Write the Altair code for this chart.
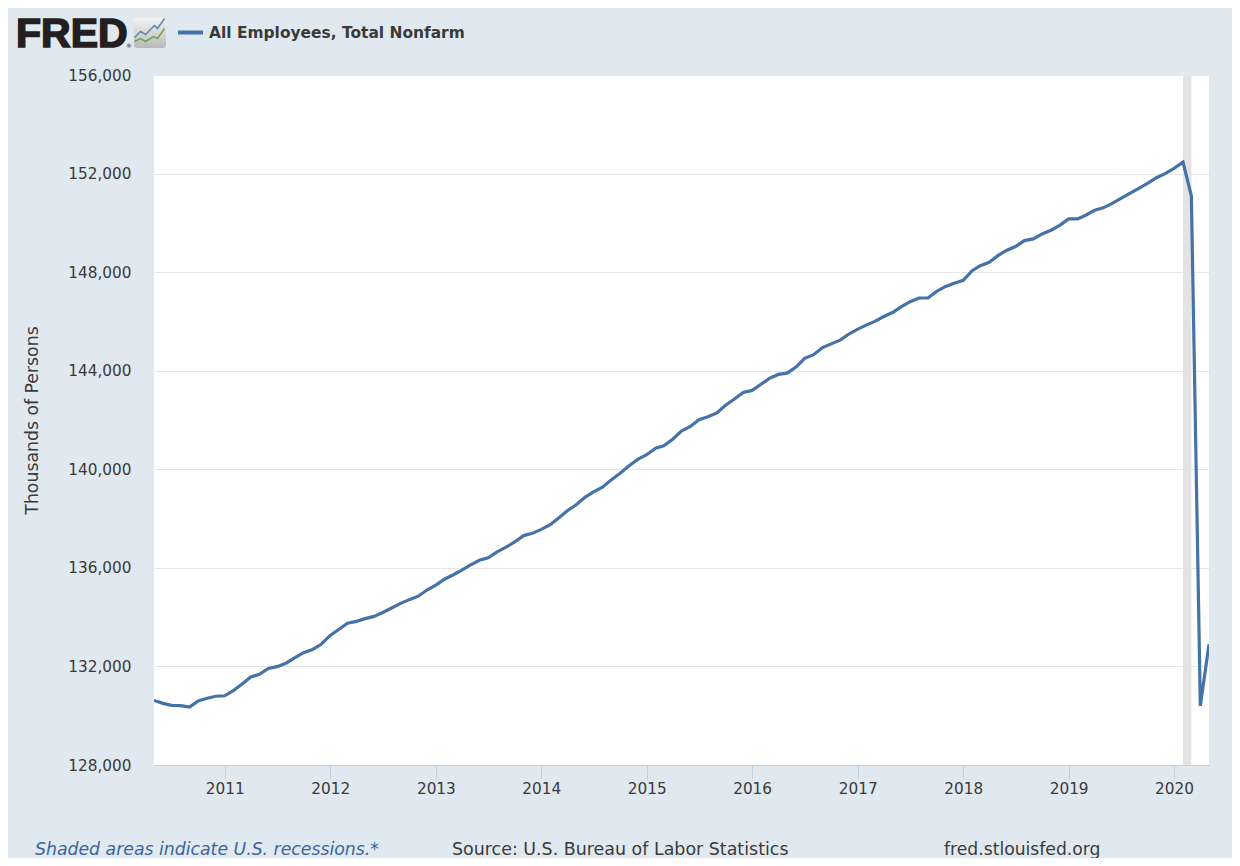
import base64
import altair as alt
import pandas as pd

SERIES = "All Employees, Total Nonfarm"
values_2010 = [130620, 130500, 130420, 130410, 130350, 130600, 130710, 130790]
values_2011 = [130810, 131030, 131280, 131570, 131680, 131920, 131990, 132130, 132360, 132560, 132690, 132900]
values_2012 = [133260, 133510, 133750, 133830, 133940, 134030, 134190, 134370, 134560, 134710, 134850, 135100]
values_2013 = [135300, 135550, 135710, 135910, 136120, 136310, 136410, 136650, 136840, 137050, 137310, 137400]
values_2014 = [137560, 137750, 138010, 138320, 138550, 138860, 139080, 139270, 139580, 139840, 140140, 140400]
values_2015 = [140590, 140860, 140950, 141220, 141550, 141740, 142010, 142130, 142290, 142600, 142850, 143120]
values_2016 = [143200, 143450, 143690, 143850, 143900, 144150, 144500, 144650, 144940, 145090, 145240, 145490]
values_2017 = [145690, 145860, 146000, 146200, 146360, 146600, 146800, 146950, 146950, 147220, 147420, 147550]
values_2018 = [147670, 148060, 148260, 148400, 148670, 148890, 149040, 149280, 149350, 149550, 149700, 149900]
values_2019 = [150160, 150160, 150310, 150510, 150610, 150790, 150990, 151200, 151400, 151600, 151830, 152000]
values_2020 = [152210, 152460, 151090, 130400, 132900]
values = (values_2010 + values_2011 + values_2012 + values_2013 + values_2014 + values_2015
          + values_2016 + values_2017 + values_2018 + values_2019 + values_2020)
dates = pd.date_range("2010-05-01", periods=len(values), freq="MS").strftime("%Y-%m-%dT00:00:00Z").tolist()
y_ticks = [128000, 132000, 136000, 140000, 144000, 148000, 152000, 156000]
recession_start = ["2020-02-01T00:00:00Z"]
recession_end = ["2020-03-01T00:00:00Z"]

BG = "#e1e9f0"
LINE = "#4572a7"
INK = "#3a3a3a"
FONT = "DejaVu Sans"
LEFT, TOP = 154, 75

x_scale = alt.Scale(type="utc", domain=["2010-05-01T00:00:00Z", "2020-05-01T00:00:00Z"])
y_scale = alt.Scale(domain=[128000, 156000], nice=False)

df = pd.DataFrame({"date": dates, "value": values, "series": SERIES})

recession = alt.Chart(pd.DataFrame({"start": recession_start, "end": recession_end})).mark_rect(
    color="#e3e3e3"
).encode(
    x=alt.X("start:T", scale=x_scale, title=None),
    x2="end:T",
)

line = alt.Chart(df).mark_line(strokeWidth=3.2, strokeJoin="miter", clip=True).encode(
    x=alt.X(
        "date:T",
        scale=x_scale,
        title=None,
        axis=alt.Axis(
            format="%Y",
            tickCount={"interval": "year", "step": 1},
            grid=False,
            domainColor="#c0d0e0",
            domainWidth=1,
            tickColor="#c0d0e0",
            tickSize=14,
            labelFont=FONT,
            labelFontSize=15.3,
            labelColor=INK,
            labelPadding=2,
            labelOverlap=False,
            labelFlush=False,
        ),
    ),
    y=alt.Y(
        "value:Q",
        scale=y_scale,
        title="Thousands of Persons",
        axis=alt.Axis(
            values=y_ticks,
            format=",d",
            grid=True,
            gridColor="#e6e6e6",
            gridWidth=1,
            domain=False,
            ticks=False,
            labelFont=FONT,
            labelFontSize=15.3,
            labelColor=INK,
            labelPadding=23,
            titleFont=FONT,
            titleFontSize=17.3,
            titleFontWeight="normal",
            titleColor=INK,
            titlePadding=26,
        ),
    ),
    color=alt.Color(
        "series:N",
        scale=alt.Scale(domain=[SERIES], range=[LINE]),
        legend=alt.Legend(
            orient="none",
            legendX=22,
            legendY=-57,
            title=None,
            symbolType="stroke",
            symbolSize=625,
            symbolStrokeWidth=4,
            labelFont=FONT,
            labelFontSize=15.45,
            labelFontWeight="bold",
            labelColor=INK,
            labelOffset=4,
            labelLimit=400,
        ),
    ),
)


def label(text, x, y, **kw):
    return alt.Chart(pd.DataFrame({"t": [text]})).mark_text(align="left", baseline="alphabetic", **kw).encode(
        text="t:N", x=alt.value(x - LEFT), y=alt.value(y - TOP)
    )


logo_text = label("FRED", 16, 47, font="Liberation Sans", fontWeight="bold", fontSize=41,
                  color="#231f20", stroke="#231f20", strokeWidth=1.6)
logo_mark = label("®", 126, 48, font=FONT, fontSize=6, color="#231f20")

icon_svg = (
    '<svg xmlns="http://www.w3.org/2000/svg" width="33" height="31" viewBox="0 0 33 31">'
    '<defs><linearGradient id="g" x1="0" y1="0" x2="0" y2="1">'
    '<stop offset="0" stop-color="#f4f4f4"/><stop offset="1" stop-color="#b9b9b9"/></linearGradient></defs>'
    '<rect x="0.5" y="0.5" width="32" height="30" rx="3" fill="url(#g)"/>'
    '<polyline points="1,20 7,14 12,17 21,8 24,11 31,1" fill="none" stroke="#5d87a8" stroke-width="1.5"/>'
    '<polyline points="1,24 7,21 12,24 20,19 24,21 31,11" fill="none" stroke="#6fa14a" stroke-width="1.5"/>'
    "</svg>"
)
icon_url = "data:image/svg+xml;base64," + base64.b64encode(icon_svg.encode()).decode()
logo_icon = alt.Chart(pd.DataFrame({"t": ["icon"]})).mark_image(url=icon_url, width=33, height=31).encode(
    x=alt.value(150 - LEFT), y=alt.value(33 - TOP)
)

foot_note = label("Shaded areas indicate U.S. recessions.*", 35, 855, font=FONT, fontSize=17.3,
                  fontStyle="italic", color="#3a659c")
foot_source = label("Source: U.S. Bureau of Labor Statistics", 452, 855, font=FONT, fontSize=17.45, color=INK)
foot_site = label("fred.stlouisfed.org", 944, 855, font=FONT, fontSize=17.2, color=INK)

chart = alt.layer(
    recession, line, logo_text, logo_mark, logo_icon, foot_note, foot_source, foot_site
).properties(
    width=1055,
    height=690,
    background=BG,
    autosize=alt.AutoSizeParams(type="none"),
    padding={"left": 146, "top": 67, "right": 23, "bottom": 93},
).configure_view(fill="white", stroke=None)

chart.save("out.html", embed_options={"renderer": "svg", "actions": False})
